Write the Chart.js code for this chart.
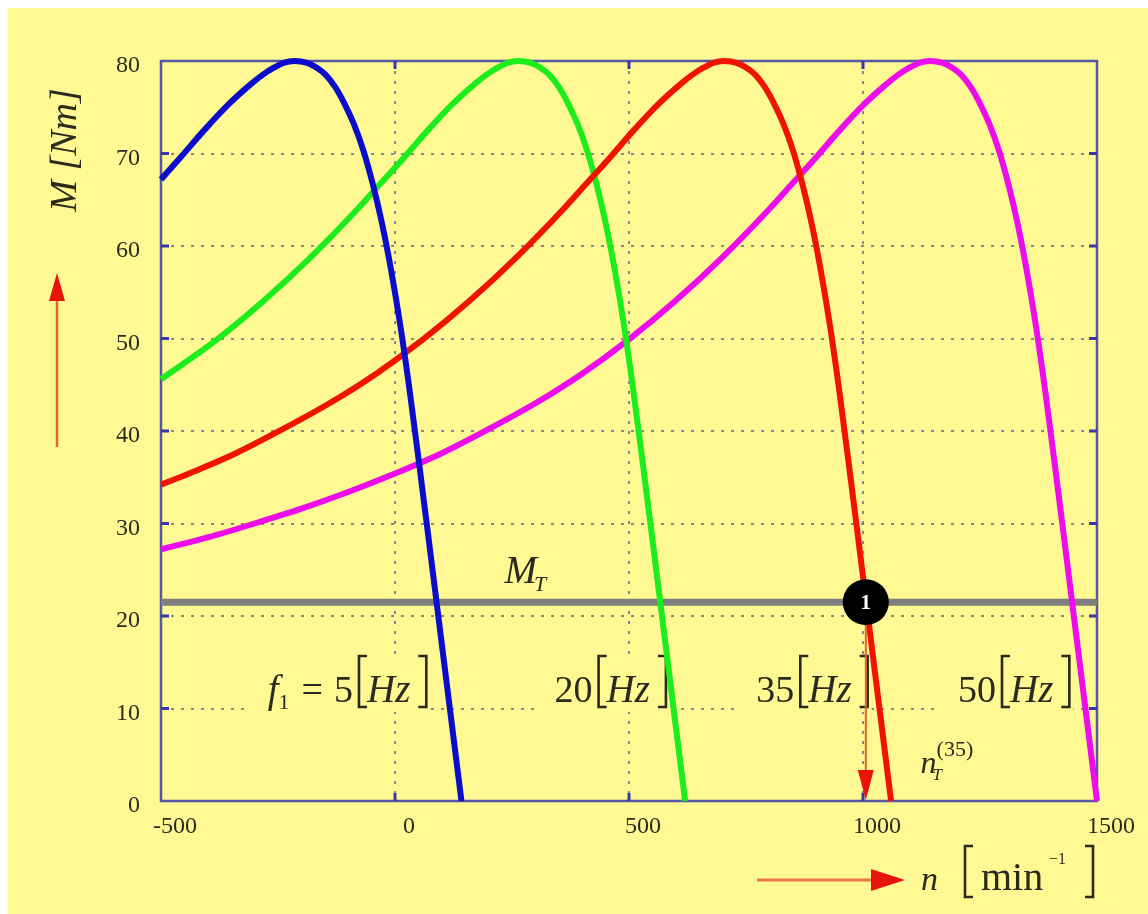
<!DOCTYPE html>
<html>
<head>
<meta charset="utf-8">
<script src="https://cdn.jsdelivr.net/npm/chart.js@4.4.1/dist/chart.umd.min.js"></script>
<style>
  html, body { margin: 0; padding: 0; background: #ffffff; }
  canvas { display: block; }
</style>
</head>
<body>
<canvas id="torqueChart" width="1148" height="914"></canvas>
<script>
// Torque-speed characteristics of an induction motor under V/f control
// Speed n in min^-1, torque M in Nm

const supplyFrequencies = [5, 20, 35, 50];

const speed5  = [-500, -458, -408, -358, -308, -283, -258, -238, -215, -188, -168, -148, -128, -108, -88, -68, -48, -28, -8, 12, 32, 52, 67, 92, 117, 142];
const torque5 = [67.2, 69.6, 72.5, 75.2, 77.5, 78.5, 79.3, 79.8, 80.0, 79.8, 79.3, 78.5, 77.2, 75.4, 73.2, 70.4, 66.8, 62.5, 57.3, 51.2, 44.1, 36.3, 30.3, 20.2, 10.1, 0];

const speed20  = [-500, -380, -280, -180, -80, -30, 20, 70, 120, 170, 195, 220, 240, 263, 290, 310, 330, 350, 370, 390, 410, 430, 450, 470, 490, 510, 530, 545, 570, 595, 620];
const torque20 = [45.6, 49.9, 54.1, 58.8, 64.0, 66.8, 69.6, 72.5, 75.2, 77.5, 78.5, 79.3, 79.8, 80.0, 79.8, 79.3, 78.5, 77.2, 75.4, 73.2, 70.4, 66.8, 62.5, 57.3, 51.2, 44.1, 36.3, 30.3, 20.2, 10.1, 0];

const speed35  = [-500, -440, -340, -240, -140, -40, 60, 160, 260, 360, 410, 460, 510, 560, 610, 635, 660, 680, 703, 730, 750, 770, 790, 810, 830, 850, 870, 890, 910, 930, 950, 970, 985, 1010, 1035, 1060];
const torque35 = [34.2, 35.4, 37.6, 40.2, 43.0, 46.2, 49.9, 54.1, 58.8, 64.0, 66.8, 69.6, 72.5, 75.2, 77.5, 78.5, 79.3, 79.8, 80.0, 79.8, 79.3, 78.5, 77.2, 75.4, 73.2, 70.4, 66.8, 62.5, 57.3, 51.2, 44.1, 36.3, 30.3, 20.2, 10.1, 0];

const speed50  = [-500, -400, -300, -200, -100, 0, 100, 200, 300, 400, 500, 600, 700, 800, 850, 900, 950, 1000, 1050, 1075, 1100, 1120, 1143, 1170, 1190, 1210, 1230, 1250, 1270, 1290, 1310, 1330, 1350, 1370, 1390, 1410, 1425, 1450, 1475, 1500];
const torque50 = [27.2, 28.5, 30.0, 31.6, 33.4, 35.4, 37.6, 40.2, 43.0, 46.2, 49.9, 54.1, 58.8, 64.0, 66.8, 69.6, 72.5, 75.2, 77.5, 78.5, 79.3, 79.8, 80.0, 79.8, 79.3, 78.5, 77.2, 75.4, 73.2, 70.4, 66.8, 62.5, 57.3, 51.2, 44.1, 36.3, 30.3, 20.2, 10.1, 0];

// Load torque M_T and the operating point on the 35 Hz curve
const loadSpeed  = [-500, 1500];
const loadTorque = [21.5, 21.5];
const operatingSpeed35 = 1006;

const speedTickLabels  = ['-500', '0', '500', '1000', '1500'];
const torqueTickLabels = ['0', '10', '20', '30', '40', '50', '60', '70', '80'];

// ---------- styling ----------
const SERIF = "'Liberation Serif','Times New Roman',serif";
const BG = '#FEF993';
const INK = '#2a2a1e';
const FRAME = '#5656A6';
const GRID = 'rgba(105,105,150,0.8)';
const ARROW_RED = '#E8140A';
const ARROW_SHAFT = '#E86030';

const pts = (xs, ys) => xs.map((x, i) => ({ x, y: ys[i] }));

function curve(xs, ys, color) {
  return {
    data: pts(xs, ys),
    showLine: true,
    borderColor: color,
    borderWidth: 6,
    pointRadius: 0,
    cubicInterpolationMode: 'monotone',
    clip: 6
  };
}

function bracket(ctx, x, base, side) {
  const top = base - 46, bot = base + 5, w = 8;
  ctx.save();
  ctx.strokeStyle = INK;
  ctx.lineWidth = 2.6;
  ctx.beginPath();
  if (side === '[') {
    ctx.moveTo(x + w, top); ctx.lineTo(x, top); ctx.lineTo(x, bot); ctx.lineTo(x + w, bot);
  } else {
    ctx.moveTo(x - w, top); ctx.lineTo(x, top); ctx.lineTo(x, bot); ctx.lineTo(x - w, bot);
  }
  ctx.stroke();
  ctx.restore();
}

// Draws a run of text pieces and brackets; returns the end x
function rich(ctx, x, base, parts, draw) {
  let cx = x;
  ctx.fillStyle = INK;
  ctx.textBaseline = 'alphabetic';
  ctx.textAlign = 'left';
  for (const p of parts) {
    if (p.br) {
      if (draw) bracket(ctx, p.br === '[' ? cx + 2 : cx + 8, base, p.br);
      cx += 10 + (p.gap || 0);
      continue;
    }
    ctx.font = p.font;
    if (draw) ctx.fillText(p.t, cx, base + (p.dy || 0));
    cx += ctx.measureText(p.t).width + (p.gap || 0);
  }
  return cx;
}

const I39 = 'italic 39px ' + SERIF;
const R38 = '38px ' + SERIF;
const R22 = '22px ' + SERIF;

// Frequency captions: anchored in axis units (left edge, baseline)
const captionAnchors = [
  { speed: -272, torque: 10.7 },
  { speed: 341,  torque: 10.7 },
  { speed: 772,  torque: 10.7 },
  { speed: 1203, torque: 10.7 }
];

function captionParts(f, i) {
  const hz = [{ br: '[' }, { t: 'Hz', font: I39, gap: 8 }, { br: ']' }];
  if (i === 0) {
    return [{ t: 'f', font: I39 }, { t: '1', font: R22, dy: 7, gap: 12 }, { t: '=', font: R38, gap: 11 },
            { t: String(f), font: R38, gap: 4 }].concat(hz);
  }
  return [{ t: String(f), font: R38, gap: 4 }].concat(hz);
}

const backgroundPlugin = {
  id: 'pageBackground',
  beforeDraw(chart) {
    const { ctx, width, height } = chart;
    ctx.save();
    ctx.fillStyle = '#ffffff';
    ctx.fillRect(0, 0, width, height);
    ctx.fillStyle = BG;
    ctx.fillRect(8, 8, width - 8, height - 8);
    ctx.restore();
  }
};

const underlayPlugin = {
  id: 'underlay',
  beforeDatasetsDraw(chart) {
    const { ctx, chartArea: a, scales: { x, y } } = chart;
    ctx.save();
    // frequency captions with a background patch that hides the grid
    supplyFrequencies.forEach((f, i) => {
      const px = x.getPixelForValue(captionAnchors[i].speed);
      const base = y.getPixelForValue(captionAnchors[i].torque);
      const parts = captionParts(f, i);
      const end = rich(ctx, px, base, parts, false);
      ctx.fillStyle = BG;
      ctx.fillRect(px - 18, base - 48, end - px + 20, 58);
      rich(ctx, px, base, parts, true);
    });
    // frame
    ctx.strokeStyle = FRAME;
    ctx.lineWidth = 2.5;
    ctx.strokeRect(a.left, a.top, a.right - a.left, a.bottom - a.top);
    // inward tick marks
    ctx.strokeStyle = '#3838A8';
    ctx.lineWidth = 3;
    ctx.beginPath();
    y.ticks.forEach(t => {
      if (t.value <= 0 || t.value >= 80) return;
      const py = y.getPixelForValue(t.value);
      ctx.moveTo(a.left, py); ctx.lineTo(a.left + 8, py);
      ctx.moveTo(a.right, py); ctx.lineTo(a.right - 8, py);
    });
    x.ticks.forEach(t => {
      if (t.value <= -500 || t.value >= 1500) return;
      const px = x.getPixelForValue(t.value);
      ctx.moveTo(px, a.bottom); ctx.lineTo(px, a.bottom - 8);
      ctx.moveTo(px, a.top); ctx.lineTo(px, a.top + 8);
    });
    ctx.stroke();
    ctx.restore();
  }
};

function arrowHead(ctx, tipX, tipY, dir, len, half) {
  ctx.beginPath();
  if (dir === 'up') {
    ctx.moveTo(tipX, tipY); ctx.lineTo(tipX - half, tipY + len); ctx.lineTo(tipX + half, tipY + len);
  } else if (dir === 'down') {
    ctx.moveTo(tipX, tipY); ctx.lineTo(tipX - half, tipY - len); ctx.lineTo(tipX + half, tipY - len);
  } else {
    ctx.moveTo(tipX, tipY); ctx.lineTo(tipX - len, tipY - half); ctx.lineTo(tipX - len, tipY + half);
  }
  ctx.closePath();
  ctx.fill();
}

const overlayPlugin = {
  id: 'overlay',
  afterDatasetsDraw(chart) {
    const { ctx, chartArea: a, scales: { x, y } } = chart;
    ctx.save();
    const ox = x.getPixelForValue(operatingSpeed35);
    const oy = y.getPixelForValue(loadTorque[0]);
    const r = 23;

    // drop line from the operating point to the speed axis
    ctx.strokeStyle = ARROW_SHAFT;
    ctx.lineWidth = 2;
    ctx.beginPath();
    ctx.moveTo(ox, oy + r); ctx.lineTo(ox, a.bottom - 26);
    ctx.stroke();
    ctx.fillStyle = ARROW_RED;
    arrowHead(ctx, ox, a.bottom - 1, 'down', 30, 8);

    // operating point marker
    ctx.fillStyle = '#000000';
    ctx.beginPath();
    ctx.arc(ox, oy, r, 0, Math.PI * 2);
    ctx.fill();
    ctx.fillStyle = '#ffffff';
    ctx.font = 'bold 21px ' + SERIF;
    ctx.textAlign = 'center';
    ctx.textBaseline = 'middle';
    ctx.fillText('1', ox, oy + 1);

    // M_T caption
    ctx.fillStyle = INK;
    ctx.textAlign = 'left';
    ctx.textBaseline = 'alphabetic';
    const mx = x.getPixelForValue(234), my = y.getPixelForValue(23.6);
    ctx.font = 'italic 39px ' + SERIF;
    ctx.fillText('M', mx, my);
    const mw = ctx.measureText('M').width;
    ctx.font = 'italic 22px ' + SERIF;
    ctx.fillText('T', mx + mw - 3, my + 8);

    // n_T^(35) caption
    const nx = x.getPixelForValue(1123), ny = y.getPixelForValue(3.0);
    ctx.font = 'italic 32px ' + SERIF;
    ctx.fillText('n', nx, ny);
    ctx.font = 'italic 17px ' + SERIF;
    ctx.fillText('T', nx + 12, ny + 7);
    ctx.font = '22px ' + SERIF;
    ctx.fillText('(35)', nx + 16, ny - 17);
    ctx.restore();
  },
  afterDraw(chart) {
    const { ctx, chartArea: a } = chart;
    ctx.save();
    ctx.fillStyle = INK;

    // vertical axis title
    ctx.save();
    ctx.translate(a.left - 85, (a.top + a.bottom) / 2 - 281);
    ctx.rotate(-Math.PI / 2);
    ctx.font = 'italic 38px ' + SERIF;
    ctx.textAlign = 'center';
    ctx.textBaseline = 'alphabetic';
    ctx.fillText('M [Nm]', 0, 0);
    ctx.restore();

    // upward arrow
    const ax = a.left - 104;
    ctx.strokeStyle = ARROW_SHAFT;
    ctx.lineWidth = 2.5;
    ctx.beginPath();
    ctx.moveTo(ax, a.top + 386); ctx.lineTo(ax, a.top + 236);
    ctx.stroke();
    ctx.fillStyle = ARROW_RED;
    arrowHead(ctx, ax, a.top + 212, 'up', 28, 8);

    // horizontal axis title with arrow
    const by = a.bottom + 79;
    ctx.strokeStyle = '#E87848';
    ctx.lineWidth = 3;
    ctx.beginPath();
    ctx.moveTo(757, by); ctx.lineTo(872, by);
    ctx.stroke();
    ctx.fillStyle = ARROW_RED;
    arrowHead(ctx, 905, by, 'right', 34, 11);

    ctx.fillStyle = INK;
    ctx.textAlign = 'left';
    ctx.textBaseline = 'alphabetic';
    const base = a.bottom + 89;
    ctx.font = 'italic 34px ' + SERIF;
    ctx.fillText('n', 921, base);
    bracket(ctx, 965, base + 2, '[');
    ctx.fillStyle = INK;
    ctx.font = '40px ' + SERIF;
    ctx.fillText('min', 981, base);
    ctx.font = '16px ' + SERIF;
    ctx.fillText('\u22121', 1049, base - 26);
    bracket(ctx, 1093, base + 2, ']');
    ctx.restore();
  }
};

new Chart(document.getElementById('torqueChart'), {
  type: 'scatter',
  data: {
    datasets: [
      curve(speed5,  torque5,  '#0C0CCC'),
      curve(speed35, torque35, '#F01400'),
      curve(speed20, torque20, '#1CEE1C'),
      curve(speed50, torque50, '#EC0CEC'),
      {
        data: pts(loadSpeed, loadTorque),
        showLine: true,
        borderColor: '#7E7E7E',
        borderWidth: 7,
        pointRadius: 0,
        clip: 6
      }
    ]
  },
  options: {
    responsive: false,
    animation: false,
    devicePixelRatio: 1,
    layout: { padding: { left: 0, top: 61, right: 51, bottom: 53 } },
    plugins: { legend: { display: false }, tooltip: { enabled: false } },
    scales: {
      x: {
        type: 'linear',
        min: -500,
        max: 1500,
        afterFit: s => { s.height = 60; },
        ticks: {
          stepSize: 500,
          autoSkip: false,
          maxRotation: 0,
          padding: 11,
          labelOffset: 14,
          color: INK,
          font: { family: SERIF, size: 24 },
          callback: (v, i) => speedTickLabels[i]
        },
        grid: { color: GRID, lineWidth: 2, drawTicks: false },
        border: { display: false, dash: [3, 7] }
      },
      y: {
        type: 'linear',
        min: 0,
        max: 80,
        afterFit: s => { s.width = 161; },
        ticks: {
          stepSize: 10,
          autoSkip: false,
          padding: 21,
          labelOffset: 5,
          color: INK,
          font: { family: SERIF, size: 24 },
          callback: (v, i) => torqueTickLabels[i]
        },
        grid: { color: GRID, lineWidth: 2, drawTicks: false },
        border: { display: false, dash: [3, 7] }
      }
    }
  },
  plugins: [backgroundPlugin, underlayPlugin, overlayPlugin]
});
</script>
</body>
</html>
